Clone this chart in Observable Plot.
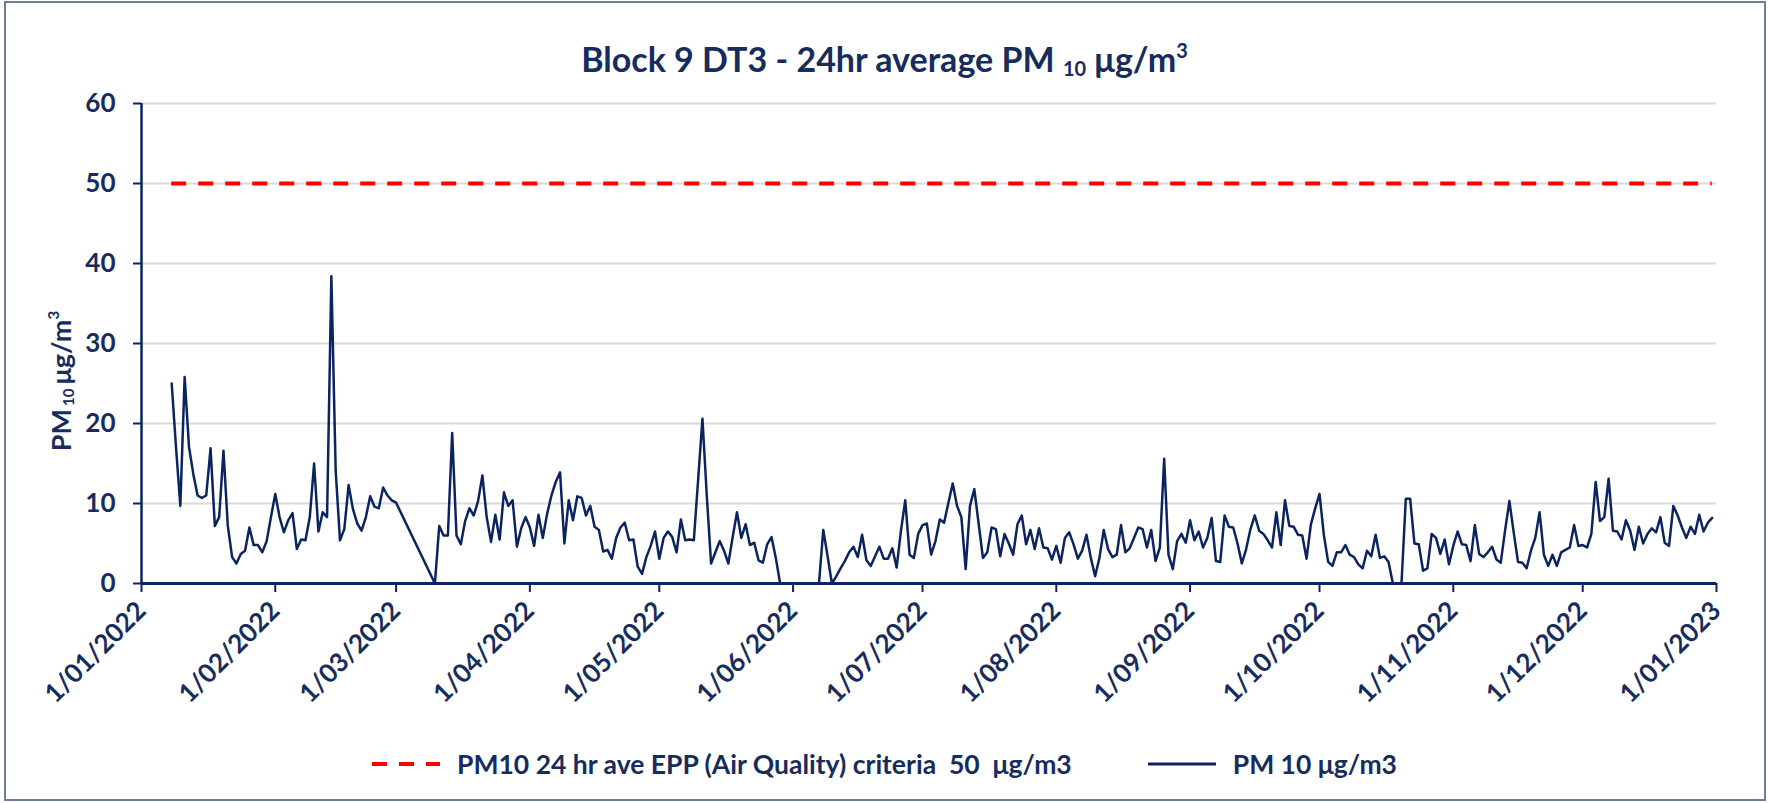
<!DOCTYPE html>
<html>
<head>
<meta charset="utf-8">
<script src="https://cdn.jsdelivr.net/npm/d3@7"></script>
<script src="https://cdn.jsdelivr.net/npm/@observablehq/plot@0.6"></script>
<style>
  html, body { margin: 0; padding: 0; background: #fff; }
  #wrap { position: relative; width: 1769px; height: 803px; overflow: hidden; background: #fff;
          font-family: Lato, "Open Sans", sans-serif; color: #172C5E; }
  #frame { position: absolute; left: 4px; top: 1px; width: 1762px; height: 800px;
           border: 2px solid #6d7f9c; box-sizing: border-box; pointer-events: none; }
  #title { position: absolute; left: 0; top: 28px; width: 1769px; text-align: center;
           font-size: 34px; font-weight: bold; line-height: 44px; white-space: nowrap; }
  #title sub { font-size: 20px; vertical-align: -4px; }
  #title sup { font-size: 20px; vertical-align: 14px; }
  #chart { position: absolute; left: 0; top: 90px; }
  #ylabel { position: absolute; left: 60px; top: 381px; transform: translate(-50%, -50%) rotate(-90deg);
            font-size: 27px; font-weight: bold; white-space: nowrap; }
  #ylabel sub { font-size: 15px; vertical-align: -3px; margin: 0 4px 0 3px; }
  #ylabel sup { font-size: 15px; vertical-align: 12px; }
  #legend { position: absolute; left: 0; top: 744px; width: 1769px; height: 40px; display: flex;
            justify-content: center; align-items: center; font-size: 26.5px; font-weight: bold; white-space: pre; }
  #legend .item { display: flex; align-items: center; }
  #legend .item + .item { margin-left: 76px; }
  #legend svg { margin-right: 17px; }
</style>
</head>
<body>
<div id="wrap">
  <div id="title"></div>
  <div id="chart"></div>
  <div id="ylabel">PM<sub>10</sub>μg/m<sup>3</sup></div>
  <div id="legend"></div>
  <div id="frame"></div>
</div>
<script>
// ---------------- data ----------------
const titleMain = "Block 9 DT3 - 24hr average PM ";
const titleSub = "10";
const titleUnit = " μg/m";
const seriesNames = ["PM10 24 hr ave EPP (Air Quality) criteria  50  μg/m3", "PM 10 μg/m3"];
const criteriaValue = 50;
const firstDay = "2022-01-08";   // date of first value below, one value per day
const pm10 = [
  25.0, 17.0, 9.7, 25.8, 17.1, 13.7, 11.0, 10.7, 11.0, 16.9, 7.2, 8.3, 16.6, 7.2, 3.3, 2.5, 3.7, 4.1, 7.0, 4.8,
  4.8, 3.9, 5.3, 8.3, 11.2, 8.3, 6.4, 7.9, 8.8, 4.3, 5.5, 5.4, 8.3, 15.0, 6.5, 8.9, 8.3, 38.4, 14.1, 5.4,
  6.8, 12.3, 9.3, 7.5, 6.6, 8.3, 10.9, 9.6, 9.4, 12.0, 11.0, 10.4, 10.1,
  null, null, null, null, null, null, null, null,
  0, 7.2, 6.0, 6.0, 18.8, 6.0, 4.9, 7.8, 9.4, 8.5, 10.3, 13.5, 8.3, 5.2, 8.6, 5.5, 11.4, 9.7, 10.4, 4.6,
  6.9, 8.3, 7.0, 4.7, 8.6, 5.7, 8.7, 11.0, 12.7, 13.9, 5.0, 10.4, 7.9, 10.9, 10.7, 8.5, 9.7, 7.1, 6.7, 4.0,
  4.2, 3.1, 5.7, 7.0, 7.6, 5.4, 5.5, 2.1, 1.2, 3.3, 4.7, 6.5, 3.1, 5.7, 6.5, 5.8, 3.9, 8.0, 5.4, 5.5,
  5.4, 13.0, 20.6, 11.0, 2.5, 3.9, 5.3, 4.1, 2.5, 5.8, 8.9, 5.7, 7.4, 4.8, 5.1, 2.9, 2.6, 4.9, 5.8, 3.2,
  0,
  null, null, null, null, null, null, null, null,
  0, 6.7, 3.4, 0, 0.9, 1.9, 2.8, 3.9, 4.6, 3.3, 6.1, 2.9, 2.2, 3.4, 4.6, 3.1, 3.1, 4.4, 2.0, 6.6,
  10.4, 3.6, 3.2, 6.2, 7.3, 7.5, 3.6, 5.3, 8.0, 7.6, 10.1, 12.5, 9.7, 8.3, 1.8, 9.7, 11.8, 7.5, 3.2, 3.9,
  7.0, 6.8, 3.4, 6.2, 5.0, 3.6, 7.4, 8.5, 4.9, 6.7, 4.3, 6.9, 4.5, 4.4, 3.0, 4.7, 2.6, 5.7, 6.4, 4.9,
  3.1, 4.1, 6.1, 3.2, 0.9, 3.2, 6.7, 4.3, 3.3, 3.6, 7.3, 3.9, 4.4, 5.7, 7.0, 6.8, 4.5, 6.7, 2.8, 4.5,
  15.6, 3.6, 1.8, 5.3, 6.2, 5.1, 7.9, 5.4, 6.5, 4.5, 5.7, 8.2, 2.8, 2.7, 8.5, 7.1, 7.0, 5.0, 2.5, 4.3,
  6.8, 8.5, 6.6, 6.2, 5.4, 4.5, 8.9, 4.8, 10.4, 7.2, 7.1, 6.1, 6.0, 3.1, 7.4, 9.4, 11.2, 6.1, 2.7, 2.2,
  3.9, 3.9, 4.8, 3.6, 3.3, 2.4, 1.9, 4.1, 3.4, 6.1, 3.2, 3.4, 2.7, 0, 0, 0, 10.6, 10.6, 5.0, 4.9,
  1.6, 1.9, 6.2, 5.7, 3.7, 5.5, 2.4, 4.7, 6.5, 4.9, 4.8, 2.8, 7.3, 3.7, 3.3, 3.9, 4.6, 3.0, 2.6, 6.6,
  10.3, 6.4, 2.7, 2.6, 1.9, 4.1, 5.7, 8.9, 3.6, 2.2, 3.6, 2.2, 3.9, 4.2, 4.5, 7.3, 4.7, 4.8, 4.5, 6.2,
  12.7, 7.8, 8.3, 13.1, 6.6, 6.5, 5.5, 7.9, 6.6, 4.2, 7.1, 5.0, 6.2, 6.9, 6.4, 8.3, 5.1, 4.7, 9.7, 8.5,
  7.0, 5.7, 7.1, 6.2, 8.6, 6.5, 7.6, 8.2
];
const xTickLabels = ["1/01/2022", "1/02/2022", "1/03/2022", "1/04/2022", "1/05/2022", "1/06/2022", "1/07/2022",
                     "1/08/2022", "1/09/2022", "1/10/2022", "1/11/2022", "1/12/2022", "1/01/2023"];
const yTicks = [0, 10, 20, 30, 40, 50, 60];

// ---------------- build ----------------
const navy = "#0B2461";
const parseTick = d3.utcParse("%d/%m/%Y");
const xTicks = xTickLabels.map(parseTick);
const labelOf = new Map(xTicks.map((d, i) => [+d, xTickLabels[i]]));
const start = d3.utcParse("%Y-%m-%d")(firstDay);
const rows = pm10.map((v, i) => ({date: d3.utcDay.offset(start, i), pm: v}));
const data = rows.filter(d => d.pm != null);
const firstDate = rows[0].date, lastDate = rows[rows.length - 1].date;

document.getElementById("title").innerHTML =
  titleMain + "<sub>" + titleSub + "</sub>" + titleUnit + "<sup>3</sup>";

const chart = Plot.plot({
  width: 1769,
  height: 640,
  marginTop: 13,
  marginBottom: 147,
  marginLeft: 141,
  marginRight: 53,
  style: {fontFamily: "Lato, 'Open Sans', sans-serif", color: navy, background: "transparent", overflow: "visible"},
  x: {type: "utc", domain: [xTicks[0], xTicks[xTicks.length - 1]]},
  y: {domain: [0, 60]},
  marks: [
    Plot.gridY(yTicks.filter(d => d > 0), {stroke: "#d9d9d9", strokeOpacity: 1, strokeWidth: 2}),
    Plot.axisY(yTicks, {tickSize: 8, tickPadding: 18, fontSize: 26, fontWeight: "bold", strokeWidth: 2,
                        fill: "#172C5E", label: null}),
    Plot.axisX(xTicks, {tickSize: 9, tickPadding: 14, tickRotate: -45, fontSize: 26, fontWeight: "bold",
                        strokeWidth: 2, fill: "#172C5E", tickFormat: d => labelOf.get(+d), label: null}),
    Plot.ruleX([xTicks[0]], {stroke: navy, strokeWidth: 2.5}),
    Plot.ruleY([criteriaValue], {x1: firstDate, x2: lastDate, stroke: "#FF0000", strokeWidth: 4,
                                 strokeDasharray: "15,12"}),
    Plot.line(data, {x: "date", y: "pm", stroke: navy, strokeWidth: 2.5, strokeLinejoin: "round"}),
    Plot.ruleY([0], {stroke: navy, strokeWidth: 3})
  ]
});
document.getElementById("chart").appendChild(chart);

// legend
const legend = document.getElementById("legend");
const swatch = (dash) => `<svg width="68" height="10"><line x1="0" x2="68" y1="5" y2="5" stroke="${dash ? "#FF0000" : navy}" stroke-width="${dash ? 4 : 3}" ${dash ? 'stroke-dasharray="15,12"' : ""}/></svg>`;
legend.innerHTML = seriesNames.map((name, i) =>
  `<span class="item">${swatch(i === 0)}<span>${name}</span></span>`).join("");
</script>
</body>
</html>
